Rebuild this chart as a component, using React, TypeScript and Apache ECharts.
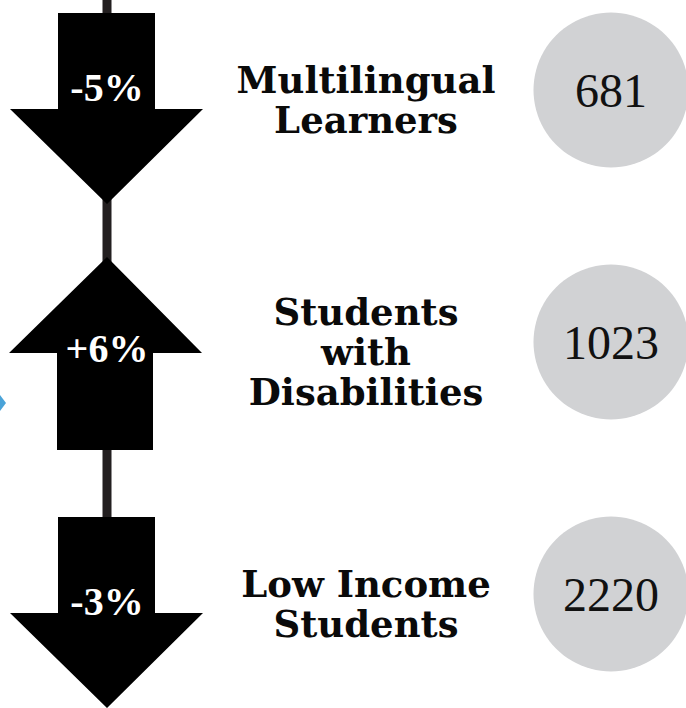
import React, { useEffect, useRef } from "react";
import * as echarts from "echarts";

const categories = ["Multilingual\nLearners", "Students\nwith\nDisabilities", "Low Income\nStudents"];
const changes = [-5, 6, -3];
const counts = [681, 1023, 2220];

const ARROW_X = 107;
const CIRCLE_X = 611;
const LABEL_X = 366;
const CHANGE_TEXT_DY = [-3, 6, 7];

export default function App() {
  const ref = useRef<HTMLDivElement>(null);
  useEffect(() => {
    document.body.style.margin = "0";
    if (!ref.current) return;
    const chart = echarts.init(ref.current, null, { renderer: "svg" });
    const fmtChange = (v: number) => (v > 0 ? "+" : "") + v + "%";
    chart.setOption({
      animation: false,
      backgroundColor: "#ffffff",
      grid: { left: 0, right: 0, top: 90, bottom: 114 },
      xAxis: { type: "value", min: 0, max: 686, show: false },
      yAxis: { type: "category", data: categories, inverse: true, boundaryGap: false, show: false },
      graphic: [
        {
          type: "line",
          z: 0,
          shape: { x1: ARROW_X, y1: 0, x2: ARROW_X, y2: 700 },
          style: { stroke: "#231f20", lineWidth: 9 },
        },
        {
          type: "polygon",
          z: 0,
          shape: { points: [[0, 395], [6, 403], [0, 411]] },
          style: { fill: "#4aa3d8" },
        },
      ],
      series: [
        {
          type: "custom",
          z: 5,
          data: categories.map((c, i) => [ARROW_X, i, changes[i]]),
          renderItem: (params: any, api: any) => {
            const i = params.dataIndex;
            const pt = api.coord([api.value(0), api.value(1)]);
            const cx = pt[0];
            const cy = pt[1];
            const ch = changes[i];
            let points: number[][];
            if (ch < 0) {
              points = [
                [cx - 49, cy - 77],
                [cx + 48, cy - 77],
                [cx + 48, cy + 19],
                [cx + 96, cy + 19],
                [cx, cy + 114],
                [cx - 97, cy + 19],
                [cx - 49, cy + 19],
              ];
            } else {
              points = [
                [cx, cy - 85],
                [cx + 95, cy + 11],
                [cx + 46, cy + 11],
                [cx + 46, cy + 108],
                [cx - 50, cy + 108],
                [cx - 50, cy + 11],
                [cx - 98, cy + 11],
              ];
            }
            return {
              type: "group",
              children: [
                { type: "polygon", shape: { points }, style: { fill: "#000000" } },
                {
                  type: "text",
                  x: cx,
                  y: cy + CHANGE_TEXT_DY[i],
                  style: {
                    text: fmtChange(ch),
                    fill: "#ffffff",
                    font: "bold 40px 'Liberation Serif'",
                    align: "center",
                    verticalAlign: "middle",
                  },
                },
                {
                  type: "text",
                  x: LABEL_X,
                  y: cy + 10,
                  style: {
                    text: categories[i],
                    fill: "#0a0a0a",
                    font: "bold 37px 'DejaVu Serif'",
                    lineHeight: 40,
                    align: "center",
                    verticalAlign: "middle",
                  },
                },
              ],
            };
          },
        },
        {
          type: "scatter",
          z: 3,
          symbol: "circle",
          symbolSize: 155,
          itemStyle: { color: "#d1d2d4", opacity: 1 },
          data: categories.map((c, i) => [CIRCLE_X, i, counts[i]]),
          label: {
            show: true,
            position: "inside",
            formatter: (p: any) => String(counts[p.dataIndex]),
            fontFamily: "Liberation Serif",
            fontSize: 48,
            color: "#111111",
          },
        },
      ],
    });
    return () => chart.dispose();
  }, []);
  return <div ref={ref} style={{ width: 686, height: 708 }} />;
}
